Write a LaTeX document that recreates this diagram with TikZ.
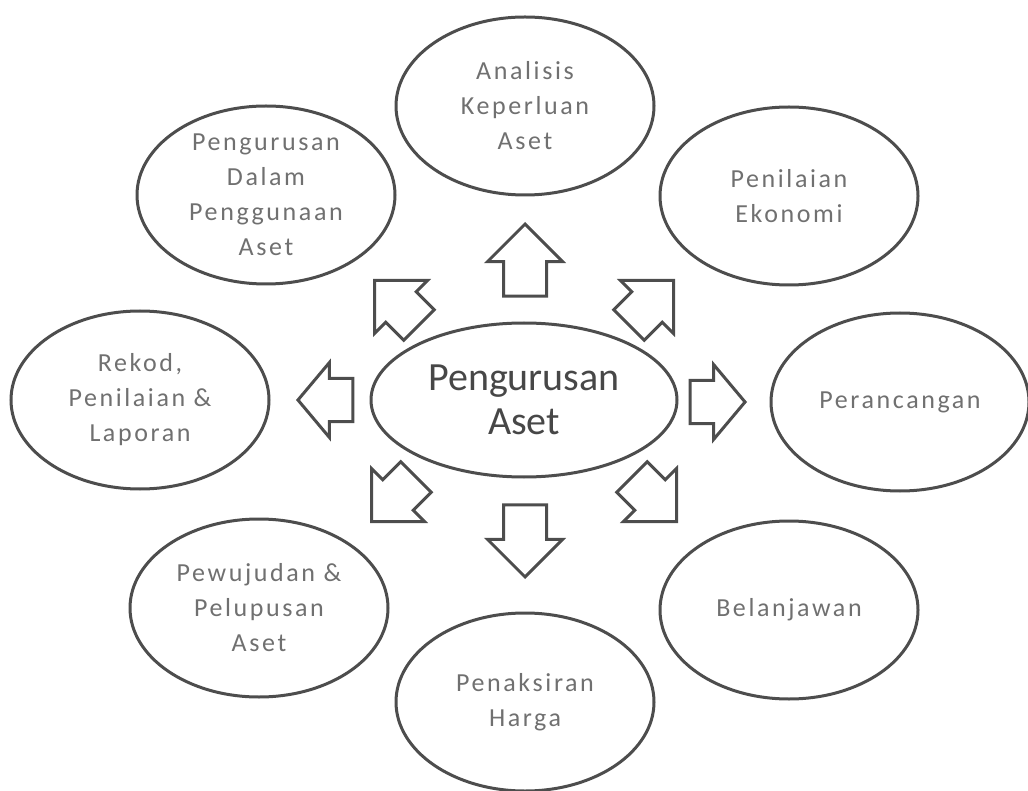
\documentclass[tikz,border=0pt]{standalone}
\usepackage{fontspec}
\setmainfont{Carlito}
\newfontfamily\spacedfont[LetterSpace=10]{Carlito}
\usetikzlibrary{shapes.geometric,shapes.arrows}
\definecolor{linegray}{HTML}{4D4D4D}
\definecolor{textgray}{HTML}{707070}

\tikzset{
	outer/.style={ellipse, draw=linegray, line width=3pt, inner sep=0pt, minimum width=258pt, minimum height=178pt},
	outertext/.style={align=center, text=textgray, inner sep=0pt, font=\spacedfont\fontsize{26}{35}\selectfont},
	hub/.style={ellipse, draw=linegray, line width=3pt, inner sep=0pt, minimum width=306pt, minimum height=154pt, align=center, text=black!72, font=\fontsize{40}{44}\selectfont},
	blockarrow/.style={single arrow, draw=linegray, line width=3pt, fill=white, inner xsep=0pt, inner ysep=20pt, single arrow head extend=16pt, single arrow head indent=0pt, anchor=tip, minimum height=#1},
	blockarrow/.default=72pt
}

\begin{document}
\begin{tikzpicture}[x=1pt,y=-1pt]
\useasboundingbox (0,0) rectangle (1028,791);

\node (hub) at (524,400) [hub] {Pengurusan\\Aset};

\node (analisis) at (525,106) [outer, label={[outertext]center:Analisis\\Keperluan\\Aset}] {};
\node (ekonomi) at (789,196) [outer, label={[outertext]center:Penilaian\\Ekonomi}] {};
\node (rancang) at (900,402) [outer, label={[outertext]center:Perancangan}] {};
\node (belanja) at (789,610) [outer, label={[outertext]center:Belanjawan}] {};
\node (harga) at (525,702) [outer, label={[outertext]center:Penaksiran\\Harga}] {};
\node (lupus) at (259,608) [outer, label={[outertext]center:Pewujudan \&\\Pelupusan\\Aset}] {};
\node (rekod) at (140,400) [outer, label={[outertext]center:Rekod,\\Penilaian \&\\Laporan}] {};
\node (guna) at (266,195) [outer, label={[outertext]center:Pengurusan\\Dalam\\Penggunaan\\Aset}] {};

% arrows placed by their tips
\node (arrN) at (525,222) [blockarrow, rotate=90] {};
\node (arrS) at (525,579) [blockarrow, rotate=-90] {};
\node (arrW) at (296,400) [blockarrow=55pt, single arrow tip angle=100, rotate=180] {};
\node (arrE) at (747,402) [blockarrow=55pt, single arrow tip angle=100] {};
\node (arrNW) at (373,279) [blockarrow=63pt, rotate=135] {};
\node (arrNE) at (675,279) [blockarrow=63pt, rotate=45] {};
\node (arrSW) at (370,523) [blockarrow=63pt, rotate=225] {};
\node (arrSE) at (678,523) [blockarrow=63pt, rotate=-45] {};

\end{tikzpicture}
\end{document}
